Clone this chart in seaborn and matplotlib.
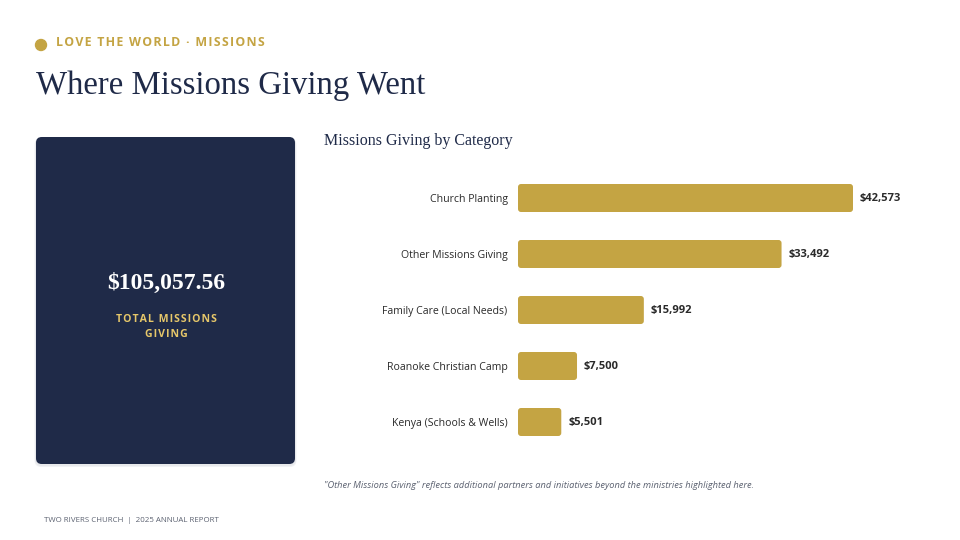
import matplotlib
matplotlib.use("Agg")
import matplotlib.pyplot as plt
from matplotlib.patches import FancyBboxPatch, Ellipse
import pandas as pd
import seaborn as sns

categories = ["Church Planting", "Other Missions Giving", "Family Care (Local Needs)",
              "Roanoke Christian Camp", "Kenya (Schools & Wells)"]
amounts = [42573, 33492, 15992, 7500, 5501]
value_labels = ["$42,573", "$33,492", "$15,992", "$7,500", "$5,501"]
total_label = "$105,057.56"

NAVY = "#1f2a48"
GOLD = "#c4a443"
LIGHT_GOLD = "#e6c76a"
GREY = "#5b6170"

df = pd.DataFrame({"category": categories, "amount": amounts})

sns.set_theme(style="white")
plt.rcParams["font.family"] = ["Open Sans", "DejaVu Sans"]

fig = plt.figure(figsize=(9.6, 5.4), dpi=100)
W, H = 960, 540

# header
fig.patches.append(Ellipse((41 / W, 1 - 45 / H), 11 / W, 11 / H, transform=fig.transFigure,
                           color=GOLD, zorder=5))
kicker = "\u200a".join("LOVE THE WORLD · MISSIONS")
fig.text(56 / W, 1 - 43 / H, kicker, color=GOLD, fontsize=8.9, fontweight="bold",
         va="center", ha="left", family=["Open Sans", "DejaVu Sans"])
fig.text(36 / W, 1 - 86 / H, "Where Missions Giving Went", color=NAVY, fontsize=23.6,
         va="center", ha="left", family=["Liberation Serif", "DejaVu Serif"])

# total panel (soft shadow + card)
for off, col in [(3, "#f1f2f4"), (2, "#e8e9ec")]:
    fig.patches.append(FancyBboxPatch(((36 - off / 2) / W, 1 - (464 + off) / H),
                                      (259 + off) / W, (327 + off / 2) / H,
                                      boxstyle="round,pad=0,rounding_size=0.007",
                                      mutation_aspect=W / H, transform=fig.transFigure,
                                      facecolor=col, edgecolor="none", zorder=1))
fig.patches.append(FancyBboxPatch((36 / W, 1 - 464 / H), 259 / W, 327 / H,
                                  boxstyle="round,pad=0,rounding_size=0.006",
                                  mutation_aspect=W / H, transform=fig.transFigure,
                                  facecolor=NAVY, edgecolor="none", zorder=2))
fig.text(166 / W, 1 - 283 / H, total_label, color="white", fontsize=17, fontweight="bold",
         ha="center", va="center", family=["Liberation Serif", "DejaVu Serif"], zorder=3)
fig.text(166 / W, 1 - 327 / H, "\u200a".join("TOTAL MISSIONS") + "\n" + "\u200a".join("GIVING"),
         color=LIGHT_GOLD, fontsize=7.6, fontweight="bold", ha="center", va="center",
         linespacing=1.5, zorder=3, family=["Open Sans", "DejaVu Sans"])

# chart
fig.text(324 / W, 1 - 141 / H, "Missions Giving by Category", color=NAVY, fontsize=11.5,
         ha="left", va="center", family=["Liberation Serif", "DejaVu Serif"])

ax = fig.add_axes([518 / W, 1 - 450 / H, 382 / W, 280 / H])
sns.barplot(data=df, y="category", x="amount", color=GOLD, width=0.5, ax=ax,
            saturation=1, orient="h")
ax.set_xlim(0, max(amounts) * 382 / 335)
ax.set_ylim(4.5, -0.5)
ax.set_xlabel("")
ax.set_ylabel("")
ax.set_xticks([])
ax.tick_params(axis="y", length=0, pad=7.5, labelsize=7.6, labelcolor="#2a2a2a")
for s in ax.spines.values():
    s.set_visible(False)
ax.patch.set_alpha(0)

# rounded bar corners
px_x = (max(amounts) * 382 / 335) / 382
px_y = 5 / 280
for p in list(ax.patches):
    x, y, w, h = p.get_x(), p.get_y(), p.get_width(), p.get_height()
    r = FancyBboxPatch((x, y), w, h, boxstyle=f"round,pad=0,rounding_size={3 * px_x}",
                       mutation_aspect=px_y / px_x, facecolor=GOLD, edgecolor="none")
    p.remove()
    ax.add_patch(r)

for i, v in enumerate(amounts):
    ax.text(v + 7 * px_x, i, value_labels[i], va="center", ha="left", fontsize=8,
            fontweight="bold", color="#2a2a2a")

fig.text(324 / W, 1 - 485 / H,
         "\"Other Missions Giving\" reflects additional partners and initiatives beyond the ministries highlighted here.",
         color=GREY, fontsize=6.65, style="italic", ha="left", va="center")
fig.text(44 / W, 1 - 520 / H, "TWO RIVERS CHURCH  |  2025 ANNUAL REPORT", color=GREY,
         fontsize=5.65, ha="left", va="center")

fig.savefig("out.png", dpi=100, facecolor="white")
